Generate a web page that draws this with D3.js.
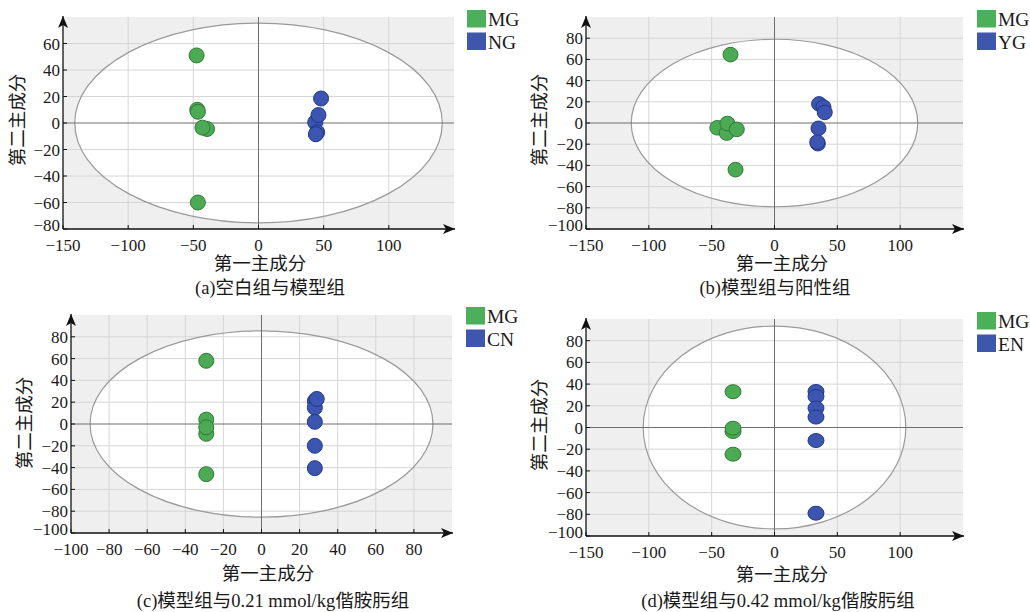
<!DOCTYPE html>
<html>
<head>
<meta charset="utf-8">
<script src="https://cdn.jsdelivr.net/npm/d3@7/dist/d3.min.js"></script>
<style>
  html, body { margin: 0; padding: 0; background: #ffffff; }
  svg { display: block; }
  text { font-family: "Liberation Serif", "Times New Roman", "Noto Sans CJK SC", serif; fill: #1a1a1a; }
</style>
</head>
<body>
<svg id="chart" width="1030" height="612"></svg>
<script>
// ---- PCA score data (第一主成分, 第二主成分) ----
// (a) 空白组与模型组
const mgA = [[-47.5, 51], [-47, 10], [-46.5, 8.5], [-39.5, -4.5], [-43, -3.5], [-46.5, -60]];
const ngA = [[48, 18.5], [43.5, 0.5], [46, 6], [45, -7], [44, -8.5]];
const xTicksA = [-150, -100, -50, 0, 50, 100];
const yTicksA = [-80, -60, -40, -20, 0, 20, 40, 60];
const ellipseA = [141, 75.4];

// (b) 模型组与阳性组
const mgB = [[-35, 64.5], [-45.5, -4.5], [-38, -9.5], [-37.5, -0.5], [-30, -6], [-31, -44]];
const ygB = [[35.5, 18], [39, 15], [40, 10], [35, -5], [34.5, -19.5], [34, -18]];
const xTicksB = [-150, -100, -50, 0, 50, 100];
const yTicksB = [-100, -80, -60, -40, -20, 0, 20, 40, 60, 80];
const ellipseB = [114, 79];

// (c) 模型组与0.21 mmol/kg偕胺肟组
const mgC = [[-29, 58], [-29, 4], [-29, -9], [-29, -3], [-29, -46]];
const cnC = [[28, 21], [28, 15], [29, 23], [28, 2], [28, -20], [28, -40.5]];
const xTicksC = [-100, -80, -60, -40, -20, 0, 20, 40, 60, 80];
const yTicksC = [-100, -80, -60, -40, -20, 0, 20, 40, 60, 80];
const ellipseC = [90, 85.5];

// (d) 模型组与0.42 mmol/kg偕胺肟组
const mgD = [[-33, 33], [-33, -3.7], [-33, -0.6], [-33, -24.6]];
const enD = [[33, 33.2], [33, 28.6], [33, 17.9], [33, 9.6], [33, -12], [33, -79]];
const xTicksD = [-150, -100, -50, 0, 50, 100];
const yTicksD = [-100, -80, -60, -40, -20, 0, 20, 40, 60, 80];
const ellipseD = [104.5, 93.5];

const groupNames = { a: ["MG", "NG"], b: ["MG", "YG"], c: ["MG", "CN"], d: ["MG", "EN"] };
const captions = {
  a: "(a)空白组与模型组",
  b: "(b)模型组与阳性组",
  c: "(c)模型组与0.21 mmol/kg偕胺肟组",
  d: "(d)模型组与0.42 mmol/kg偕胺肟组"
};

const GREEN = "#4caa55", GREEN_EDGE = "#2f7a37";
const BLUE = "#3b55b0", BLUE_EDGE = "#223888";
const LEG_GREEN = "#4caf5a", LEG_BLUE = "#3e57ad";

const svg = d3.select("#chart");

// Arrowheads for the axes
const defs = svg.append("defs");
defs.append("marker")
  .attr("id", "arrow")
  .attr("viewBox", "0 0 12 10")
  .attr("refX", 12).attr("refY", 5)
  .attr("markerUnits", "userSpaceOnUse")
  .attr("markerWidth", 12).attr("markerHeight", 10)
  .attr("orient", "auto")
  .append("path")
  .attr("d", "M0,0 L12,5 L0,10 L3,5 Z")
  .attr("fill", "#111");

function fmt(v) { return v < 0 ? "\u2212" + Math.abs(v) : String(v); }

function drawPanel(p) {
  const x = d3.scaleLinear().domain(p.xDomain).range([p.left, p.right]);
  const y = d3.scaleLinear().domain(p.yDomain).range([p.bottom, p.top]);
  const g = svg.append("g");

  // background and clip
  const clipId = "clip-" + p.key;
  defs.append("clipPath").attr("id", clipId)
    .append("rect")
    .attr("x", p.left).attr("y", p.top)
    .attr("width", p.right - p.left).attr("height", p.bottom - p.top);

  g.append("rect")
    .attr("x", p.left).attr("y", p.top)
    .attr("width", p.right - p.left).attr("height", p.bottom - p.top)
    .attr("fill", "#efefef");

  const inner = g.append("g").attr("clip-path", `url(#${clipId})`);

  // Hotelling ellipse interior
  const cx = x(0), cy = y(0);
  const erx = x(p.ellipse[0]) - x(0);
  const ery = y(0) - y(p.ellipse[1]);
  inner.append("ellipse")
    .attr("cx", cx).attr("cy", cy).attr("rx", erx).attr("ry", ery)
    .attr("fill", "#ffffff");

  // grid
  inner.selectAll(".gx").data(p.xGrid.filter(v => v !== 0)).join("line")
    .attr("x1", d => x(d)).attr("x2", d => x(d))
    .attr("y1", p.top).attr("y2", p.bottom)
    .attr("stroke", "#d6d6d6").attr("stroke-width", 1);
  inner.selectAll(".gy").data(p.yGrid.filter(v => v !== 0)).join("line")
    .attr("y1", d => y(d)).attr("y2", d => y(d))
    .attr("x1", p.left).attr("x2", p.right)
    .attr("stroke", "#d6d6d6").attr("stroke-width", 1);

  // ellipse outline
  inner.append("ellipse")
    .attr("cx", cx).attr("cy", cy).attr("rx", erx).attr("ry", ery)
    .attr("fill", "none").attr("stroke", "#9a9a9a").attr("stroke-width", 1.2);

  // zero lines
  inner.append("line")
    .attr("x1", x(0)).attr("x2", x(0)).attr("y1", p.top).attr("y2", p.bottom)
    .attr("stroke", "#6e6e6e").attr("stroke-width", 1);
  inner.append("line")
    .attr("x1", p.left).attr("x2", p.right).attr("y1", y(0)).attr("y2", y(0))
    .attr("stroke", "#6e6e6e").attr("stroke-width", 1);

  // axes with arrows
  g.append("line")
    .attr("x1", p.left).attr("x2", p.right + 1)
    .attr("y1", p.bottom).attr("y2", p.bottom)
    .attr("stroke", "#111").attr("stroke-width", 1.3)
    .attr("marker-end", "url(#arrow)");
  g.append("line")
    .attr("x1", p.left).attr("x2", p.left)
    .attr("y1", p.bottom).attr("y2", p.top - 1)
    .attr("stroke", "#111").attr("stroke-width", 1.3)
    .attr("marker-end", "url(#arrow)");

  // ticks (drawn inward) and labels
  g.selectAll(".tx").data(p.xTicks).join("line")
    .attr("x1", d => x(d)).attr("x2", d => x(d))
    .attr("y1", p.bottom).attr("y2", p.bottom - 4)
    .attr("stroke", "#111").attr("stroke-width", 1);
  g.selectAll(".ty").data(p.yTicks).join("line")
    .attr("x1", p.left).attr("x2", p.left + 4)
    .attr("y1", d => y(d)).attr("y2", d => y(d))
    .attr("stroke", "#111").attr("stroke-width", 1);

  const lowest = d3.min(p.yTicks);
  g.selectAll(".lx").data(p.xTicks).join("text")
    .attr("x", d => x(d)).attr("y", p.bottom + 21.5)
    .attr("text-anchor", "middle")
    .attr("font-size", 17)
    .text(fmt);
  g.selectAll(".ly").data(p.yTicks).join("text")
    .attr("x", p.left - 3)
    // the bottom label sits a little higher, clear of the x labels
    .attr("y", d => y(d) + (d === lowest ? 2 : 6))
    .attr("text-anchor", "end")
    .attr("font-size", 17)
    .text(fmt);

  // score points
  const pts = inner.append("g");
  pts.selectAll(".mg").data(p.mg).join("ellipse")
    .attr("cx", d => x(d[0])).attr("cy", d => y(d[1]))
    .attr("rx", p.mr[0]).attr("ry", p.mr[1])
    .attr("fill", GREEN).attr("stroke", GREEN_EDGE).attr("stroke-width", 1);
  pts.selectAll(".other").data(p.other).join("ellipse")
    .attr("cx", d => x(d[0])).attr("cy", d => y(d[1]))
    .attr("rx", p.mr[0]).attr("ry", p.mr[1])
    .attr("fill", BLUE).attr("stroke", BLUE_EDGE).attr("stroke-width", 1);

  // axis titles and caption
  g.append("text")
    .attr("x", p.xTitle[0]).attr("y", p.xTitle[1])
    .attr("text-anchor", "middle").attr("font-size", 18.5)
    .text("第一主成分");
  g.append("text")
    .attr("transform", `translate(${p.yTitle[0]},${p.yTitle[1]}) rotate(-90)`)
    .attr("text-anchor", "middle").attr("font-size", 18.5)
    .text("第二主成分");
  g.append("text")
    .attr("x", p.caption[0]).attr("y", p.caption[1])
    .attr("text-anchor", "middle").attr("font-size", 18.5)
    .text(captions[p.key]);

  // legend
  const names = groupNames[p.key];
  const lg = g.append("g").attr("transform", `translate(${p.legend[0]},${p.legend[1]})`);
  [LEG_GREEN, LEG_BLUE].forEach((c, i) => {
    lg.append("rect")
      .attr("x", 0).attr("y", i * 22.5)
      .attr("width", 19).attr("height", 17.5)
      .attr("fill", c);
    lg.append("text")
      .attr("x", 21).attr("y", i * 22.5 + 16)
      .attr("font-size", 19.5)
      .text(names[i]);
  });
}

drawPanel({
  key: "a", left: 63, right: 454, top: 17, bottom: 229,
  xDomain: [-150, 150], yDomain: [-80, 80],
  xTicks: xTicksA, yTicks: yTicksA,
  xGrid: xTicksA.slice(1), yGrid: yTicksA.slice(1),
  ellipse: ellipseA, mg: mgA, other: ngA, mr: [7.5, 7.5],
  xTitle: [260, 270], yTitle: [24, 120], caption: [270, 294], legend: [467, 10]
});
drawPanel({
  key: "b", left: 586, right: 963, top: 17, bottom: 229,
  xDomain: [-150, 150], yDomain: [-100, 100],
  xTicks: xTicksB, yTicks: yTicksB,
  xGrid: xTicksB.slice(1), yGrid: yTicksB.slice(1),
  ellipse: ellipseB, mg: mgB, other: ygB, mr: [7.5, 7.3],
  xTitle: [782, 270], yTitle: [546, 120], caption: [775, 294], legend: [977, 10]
});
drawPanel({
  key: "c", left: 71, right: 452, top: 315, bottom: 533,
  xDomain: [-100, 100], yDomain: [-100, 100],
  xTicks: xTicksC, yTicks: yTicksC,
  xGrid: xTicksC.slice(1), yGrid: yTicksC.slice(1),
  ellipse: ellipseC, mg: mgC, other: cnC, mr: [7.5, 7.5],
  xTitle: [268, 580], yTitle: [31, 423], caption: [273, 607], legend: [466, 307]
});
drawPanel({
  key: "d", left: 586, right: 963, top: 319, bottom: 536,
  xDomain: [-150, 150], yDomain: [-100, 100],
  xTicks: xTicksD, yTicks: yTicksD,
  xGrid: xTicksD.slice(1), yGrid: yTicksD.slice(1),
  ellipse: ellipseD, mg: mgD, other: enD, mr: [8, 7],
  xTitle: [782, 581], yTitle: [546, 425], caption: [778, 607], legend: [977, 312]
});
</script>
</body>
</html>
